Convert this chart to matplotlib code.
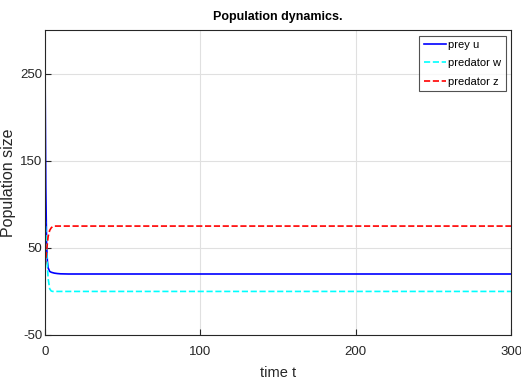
import numpy as np
import matplotlib.pyplot as plt

# Datos --------------------------------------------------------------------
t = [0, 0.5, 1, 1.5, 2, 3, 4, 5, 6, 8, 10, 15, 20, 300]
prey_u = [260, 120, 55, 35, 27, 23, 22, 21.5, 21, 20.5, 20.2, 20, 20, 20]
pred_w = [85, 70, 50, 30, 15, 3, 0.5, 0, 0, 0, 0, 0, 0, 0]
pred_z = [28, 36, 46, 55, 63, 70, 73, 74.5, 75, 75, 75, 75, 75, 75]

xticks = [0, 100, 200, 300]
yticks = [-50, 50, 150, 250]

plt.rcParams['font.family'] = ['Liberation Sans', 'DejaVu Sans']
plt.rcParams['axes.unicode_minus'] = False

fig = plt.figure(figsize=(5.21, 3.88), dpi=100)
ax = fig.add_axes([0.0864, 0.1366, 0.8946, 0.7861])

ax.plot(t, prey_u, '-', color='#0000ff', lw=1.2, label='prey u')
ax.plot(t, pred_w, '--', color='#00ffff', lw=1.2, label='predator w')
ax.plot(t, pred_z, '--', color='#ff0000', lw=1.2, label='predator z')

ax.set_xlim(0, 300)
ax.set_ylim(-50, 300)
ax.set_xticks(xticks)
ax.set_yticks(yticks)
ax.tick_params(direction='in', labelsize=9.5, length=4, color='#262626', labelcolor='#262626')
ax.tick_params(axis='x', pad=8)
ax.tick_params(axis='y', pad=2)
ax.grid(True, color='#e0e0e0', lw=0.8)
for s in ax.spines.values():
    s.set_color('#262626')
    s.set_linewidth(0.8)

ax.set_title('Population dynamics.', fontsize=9, fontweight='bold', pad=7)
ax.set_xlabel('time t', fontsize=10.5, color='#262626', labelpad=6)
ax.set_ylabel('Population size', fontsize=11.5, color='#262626')
ax.yaxis.set_label_coords(-0.062, 0.5)

leg = ax.legend(loc='upper right', fontsize=8, frameon=True, fancybox=False,
                edgecolor='#262626', handlelength=2.0, handletextpad=0.2,
                borderpad=0.4, labelspacing=0.75, borderaxespad=0.5)
leg.get_frame().set_linewidth(0.8)

plt.savefig('out.png', dpi=100)
